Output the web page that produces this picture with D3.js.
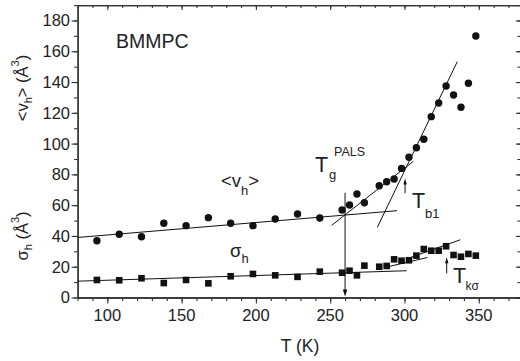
<!DOCTYPE html>
<html>
<head>
<meta charset="utf-8">
<script src="https://cdn.jsdelivr.net/npm/d3@7"></script>
<style>
  html, body { margin: 0; padding: 0; background: #fff; }
  svg { display: block; }
  text { font-family: "Liberation Sans", Arial, sans-serif; fill: #222; }
</style>
</head>
<body>
<svg id="chart" width="520" height="361"></svg>
<script>
// ---- data ----
const temps = [93,108,123,138,153,168,183,198,213,228,243,258,263,268,273,283,288,293,298,303,308,313,318,323,328,333,338,343,348];
const vh = [36.9,41.1,39.5,48.2,46.7,51.9,48.2,46.7,51.0,54.3,51.7,56.9,60.1,67.3,61.6,72.6,75.2,77.0,83.9,91.1,97.3,102.8,117.5,126.4,137.4,131.6,123.6,139.2,169.9];
const sigmah = [11.4,11.2,12.5,9.4,11.4,9.2,13.8,15.3,14.4,13.4,16.8,16.1,17.4,14.4,20.7,20.0,20.5,24.8,23.9,24.2,27.2,31.5,30.4,30.4,33.3,27.6,26.5,28.3,27.2];

// fitted straight lines (end points, data units)
const vhLowFit = [[80,39.0],[295,56.4]];
const vhMidFit = [[251,46.9],[306,88.5]];
const vhHighFit = [[281.7,45.6],[335.5,153.2]];
const sLowFit = [[80,10.6],[301.5,17.4]];
const sMidFit = [[288,19.8],[315.5,26.0]];
const sHighFit = [[304,26.0],[337.5,37.5]];

// arrows [T, vFrom, vTo]
const tgArrow = [260, 68, 0.6];
const tb1Arrow = [300.4, 67.8, 77.3];
const tkArrow = [328.4, 15.7, 26.1];

const xMajor = [100,150,200,250,300,350];
const xMinor = d3.range(80, 378, 10);
const yMajor = [0,20,40,60,80,100,120,140,160,180];
const yMinor = d3.range(0, 191, 10);

// ---- scales ----
const x = d3.scaleLinear().domain([80, 378]).range([77.6, 520.4]);
const y = d3.scaleLinear().domain([0, 190]).range([297.5, 5.1]);

const svg = d3.select("#chart");
const axisColor = "#333";

function styleAxis(g) {
  g.selectAll("path").attr("stroke", axisColor).attr("stroke-width", 1.3);
  g.selectAll("line").attr("stroke", axisColor).attr("stroke-width", 1.1);
  g.selectAll("text").remove();
}

// bottom axis
svg.append("g").attr("transform", `translate(0,${y(0)})`)
  .call(d3.axisBottom(x).tickValues(xMinor).tickSize(3.5).tickSizeOuter(0)).call(styleAxis);
svg.append("g").attr("transform", `translate(0,${y(0)})`)
  .call(d3.axisBottom(x).tickValues(xMajor).tickSize(6).tickSizeOuter(0)).call(styleAxis);
// top axis (ticks inward)
svg.append("g").attr("transform", `translate(0,${y(190)})`)
  .call(d3.axisTop(x).tickValues(xMinor).tickSize(-3).tickSizeOuter(0)).call(styleAxis);
svg.append("g").attr("transform", `translate(0,${y(190)})`)
  .call(d3.axisTop(x).tickValues(xMajor).tickSize(-5).tickSizeOuter(0)).call(styleAxis);
// left axis
svg.append("g").attr("transform", `translate(${x(80)},0)`)
  .call(d3.axisLeft(y).tickValues(yMinor).tickSize(3.5).tickSizeOuter(0)).call(styleAxis);
svg.append("g").attr("transform", `translate(${x(80)},0)`)
  .call(d3.axisLeft(y).tickValues(yMajor).tickSize(6).tickSizeOuter(0)).call(styleAxis);
// right axis (ticks inward)
svg.append("g").attr("transform", `translate(${x(378)},0)`)
  .call(d3.axisRight(y).tickValues(yMinor).tickSize(-3).tickSizeOuter(0)).call(styleAxis);
svg.append("g").attr("transform", `translate(${x(378)},0)`)
  .call(d3.axisRight(y).tickValues(yMajor).tickSize(-4.5).tickSizeOuter(0)).call(styleAxis);

// tick labels
svg.append("g").selectAll("text").data(xMajor).join("text")
  .attr("x", d => x(d)).attr("y", 321).attr("text-anchor", "middle")
  .attr("font-size", 16.5).text(d => d);
svg.append("g").selectAll("text").data(yMajor).join("text")
  .attr("x", 70).attr("y", d => y(d)).attr("dy", "0.36em").attr("text-anchor", "end")
  .attr("font-size", 16.5).text(d => d);

// axis titles
svg.append("text").attr("x", 300).attr("y", 352).attr("text-anchor", "middle")
  .attr("font-size", 17.5).text("T (K)");

function yTitle(cy, parts) {
  const t = svg.append("text").attr("transform", `translate(28,${cy}) rotate(-90)`)
    .attr("text-anchor", "middle").attr("font-size", 16.5);
  parts.forEach(p => {
    const s = t.append("tspan").text(p.t);
    if (p.sub) s.attr("font-size", 11).attr("baseline-shift", "-4");
    if (p.sup) s.attr("font-size", 11).attr("baseline-shift", "9");
  });
}
yTitle(88, [{t:"<v"},{t:"h",sub:1},{t:"> (Å"},{t:"3",sup:1},{t:")"}]);
yTitle(236, [{t:"σ"},{t:"h",sub:1},{t:" (Å"},{t:"3",sup:1},{t:")"}]);

// fit lines
const line = d3.line().x(d => x(d[0])).y(d => y(d[1]));
[vhLowFit, vhMidFit, vhHighFit, sLowFit, sMidFit, sHighFit].forEach(f => {
  svg.append("path").attr("d", line(f)).attr("fill", "none")
    .attr("stroke", "#111").attr("stroke-width", 1);
});

// arrows
function arrow(a, w, len) {
  const [t, v0, v1] = a;
  const dir = v1 > v0 ? -1 : 1; // screen direction of tip
  const xt = x(t), y0 = y(v0), y1 = y(v1);
  svg.append("line").attr("x1", xt).attr("x2", xt).attr("y1", y0).attr("y2", y1 - dir * len * 0.6)
    .attr("stroke", "#111").attr("stroke-width", 1);
  svg.append("path").attr("d", `M${xt},${y1} L${xt - w / 2},${y1 - dir * len} L${xt + w / 2},${y1 - dir * len} Z`)
    .attr("fill", "#111");
}
arrow(tgArrow, 4.5, 7);
arrow(tb1Arrow, 3.5, 6);
arrow(tkArrow, 3.5, 6);

// markers
const pts = temps.map((t, i) => ({t, v: vh[i], s: sigmah[i]}));
svg.append("g").selectAll("circle").data(pts).join("circle")
  .attr("cx", d => x(d.t)).attr("cy", d => y(d.v)).attr("r", 3.7).attr("fill", "#111");
const sq = 6.6;
svg.append("g").selectAll("rect").data(pts).join("rect")
  .attr("x", d => x(d.t) - sq / 2).attr("y", d => y(d.s) - sq / 2)
  .attr("width", sq).attr("height", sq).attr("fill", "#111");

// annotations
svg.append("text").attr("x", 116).attr("y", 47.5).attr("font-size", 19.5).text("BMMPC");

const vl = svg.append("text").attr("x", 221).attr("y", 187).attr("font-size", 18.5);
vl.append("tspan").text("<v");
vl.append("tspan").text("h").attr("font-size", 13).attr("dy", 8);
vl.append("tspan").text(">").attr("dy", -8);

const sl = svg.append("text").attr("x", 230).attr("y", 257).attr("font-size", 18.5);
sl.append("tspan").text("σ");
sl.append("tspan").text("h").attr("font-size", 13).attr("dy", 6);

const tg = svg.append("g");
tg.append("text").attr("x", 315).attr("y", 171.5).attr("font-size", 21.5).text("T");
tg.append("text").attr("x", 329).attr("y", 179).attr("font-size", 13).text("g");
tg.append("text").attr("x", 334).attr("y", 156).attr("font-size", 12.5).text("PALS");

const tb = svg.append("g");
tb.append("text").attr("x", 412).attr("y", 208).attr("font-size", 21.5).text("T");
tb.append("text").attr("x", 425).attr("y", 218).attr("font-size", 13).text("b1");

const tk = svg.append("g");
tk.append("text").attr("x", 453).attr("y", 283).attr("font-size", 21.5).text("T");
tk.append("text").attr("x", 465.5).attr("y", 290).attr("font-size", 12).text("kσ");
</script>
</body>
</html>
